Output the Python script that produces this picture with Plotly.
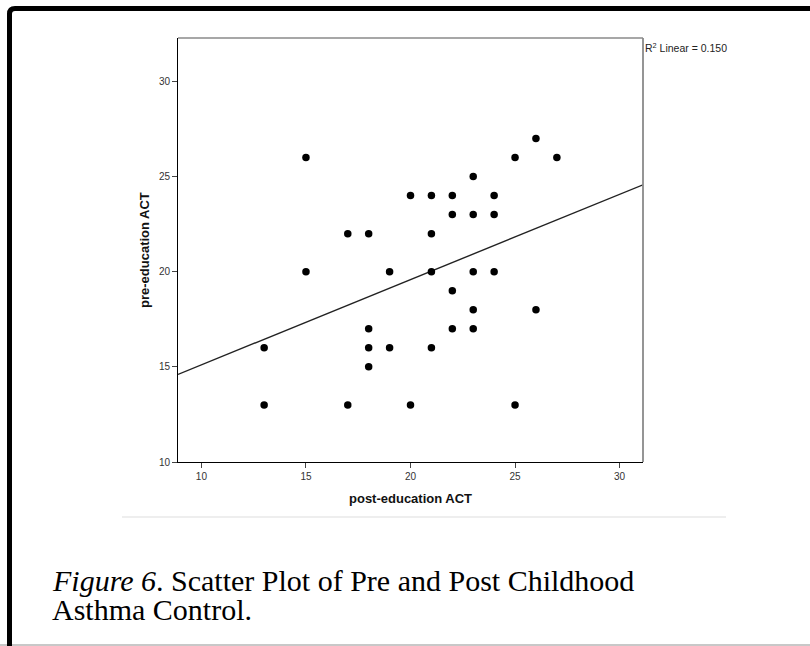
import numpy as np
import plotly.graph_objects as go

# ---- data ----
post_act = [13, 13, 15, 15, 17, 17, 18, 18, 18, 18, 19, 19, 20, 20,
            21, 21, 21, 21, 22, 22, 22, 22, 23, 23, 23, 23, 23,
            24, 24, 24, 25, 25, 26, 26, 27]
pre_act = [16, 13, 26, 20, 22, 13, 22, 17, 16, 15, 20, 16, 24, 13,
           24, 22, 20, 16, 24, 23, 19, 17, 25, 23, 20, 18, 17,
           24, 23, 20, 26, 13, 27, 18, 26]
x_ticks = [10, 15, 20, 25, 30]
y_ticks = [10, 15, 20, 25, 30]
r2_label = "R<sup>2</sup> Linear = 0.150"
x_title = "post-education ACT"
y_title = "pre-education ACT"
caption_1 = "<i>Figure 6</i>. Scatter Plot of Pre and Post Childhood"
caption_2 = "Asthma Control."

X_RANGE = [8.88, 31.12]
Y_RANGE = [10, 32.28]

# ---- layout geometry (pixels) ----
W, H = 810, 646
L, R, T, B = 178, 643, 38, 462
PW, PH = R - L, B - T


def px(xp):
    return (xp - L) / PW


def py(yp):
    return (B - yp) / PH


# linear fit
slope, intercept = np.polyfit(np.array(post_act, float), np.array(pre_act, float), 1)
fit_x = np.array(X_RANGE)
fit_y = slope * fit_x + intercept

fig = go.Figure()
fig.add_trace(go.Scatter(x=fit_x, y=fit_y, mode="lines",
                         line=dict(color="#222222", width=1.4),
                         hoverinfo="skip", showlegend=False))
fig.add_trace(go.Scatter(x=post_act, y=pre_act, mode="markers",
                         marker=dict(color="black", size=7.5),
                         showlegend=False))

axis_font = dict(family="Liberation Sans, Arial, sans-serif", size=10, color="#333333")
fig.update_xaxes(range=X_RANGE, tickvals=x_ticks, showgrid=False, zeroline=False,
                 showline=True, linecolor="black", linewidth=1,
                 ticks="outside", ticklen=5, tickcolor="#444444", tickwidth=1,
                 tickfont=axis_font)
fig.update_yaxes(range=Y_RANGE, tickvals=y_ticks, showgrid=False, zeroline=False,
                 showline=True, linecolor="black", linewidth=1,
                 ticks="outside", ticklen=5, tickcolor="#444444", tickwidth=1,
                 tickfont=axis_font)

shapes = [
    # top and right frame of plot (gray)
    dict(type="line", xref="paper", yref="paper", x0=0, x1=1, y0=1, y1=1,
         line=dict(color="#8a8a8a", width=1.5)),
    dict(type="line", xref="paper", yref="paper", x0=1, x1=1, y0=0, y1=1,
         line=dict(color="#8a8a8a", width=1.8)),
    # separator line under chart
    dict(type="line", xref="paper", yref="paper", x0=px(122), x1=px(726),
         y0=py(517), y1=py(517), line=dict(color="#dddddd", width=1.2)),
    # bottom gray rule
    dict(type="line", xref="paper", yref="paper", x0=px(0), x1=px(810),
         y0=py(645), y1=py(645), line=dict(color="#c8c8c8", width=2)),
    # black outer border (left + top with rounded corner)
    dict(type="path", xref="paper", yref="paper",
         path=(f"M {px(9.5)},{py(650)} L {px(9.5)},{py(14)} "
               f"Q {px(9.5)},{py(8.5)} {px(15)},{py(8.5)} L {px(812)},{py(8.5)}"),
         line=dict(color="black", width=5)),
]

annotations = [
    dict(text=r2_label, xref="paper", yref="paper", x=px(643), y=py(47),
         xanchor="left", yanchor="middle", showarrow=False,
         font=dict(family="Liberation Sans, Arial, sans-serif", size=10.5, color="#222222")),
    dict(text=f"<b>{x_title}</b>", xref="paper", yref="paper", x=px(410.5), y=py(498),
         xanchor="center", yanchor="middle", showarrow=False,
         font=dict(family="Liberation Sans, Arial, sans-serif", size=13, color="#111111")),
    dict(text=f"<b>{y_title}</b>", xref="paper", yref="paper", x=px(144), y=py(250),
         xanchor="center", yanchor="middle", showarrow=False, textangle=-90,
         font=dict(family="Liberation Sans, Arial, sans-serif", size=13, color="#111111")),
    dict(text=caption_1, xref="paper", yref="paper", x=px(50), y=py(580),
         xanchor="left", yanchor="middle", showarrow=False,
         font=dict(family="Liberation Serif, Times New Roman, serif", size=30, color="black")),
    dict(text=caption_2, xref="paper", yref="paper", x=px(50), y=py(609),
         xanchor="left", yanchor="middle", showarrow=False,
         font=dict(family="Liberation Serif, Times New Roman, serif", size=30, color="black")),
]

fig.update_layout(width=W, height=H,
                  margin=dict(l=L, r=W - R, t=T, b=H - B, pad=0),
                  paper_bgcolor="white", plot_bgcolor="white",
                  shapes=shapes, annotations=annotations, showlegend=False)

fig.write_html("out.html")
